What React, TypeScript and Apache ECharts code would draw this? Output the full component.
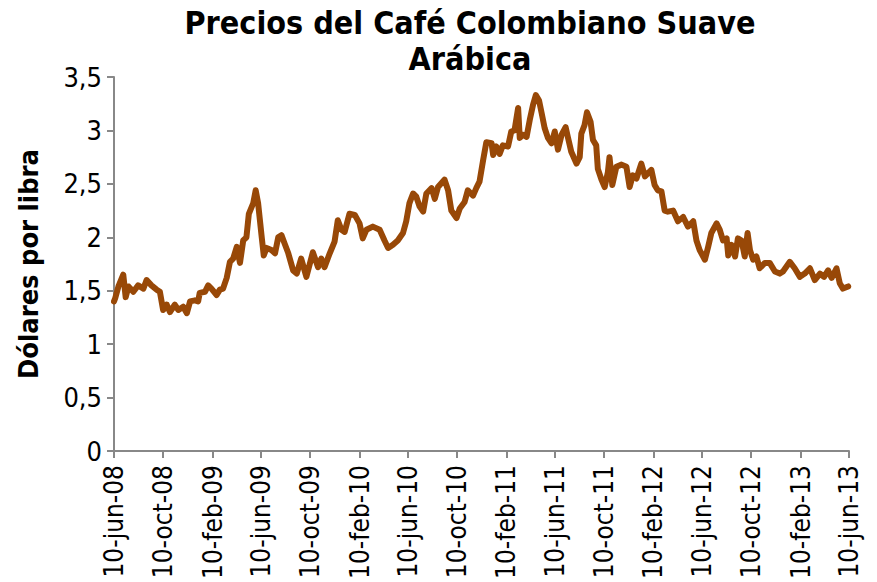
import React, { useEffect, useRef } from "react";
import * as echarts from "echarts";

const dates = [
  "2008-06-10","2008-06-13","2008-06-21","2008-07-03","2008-07-09","2008-07-16","2008-07-28","2008-08-09","2008-08-22","2008-08-30",
  "2008-09-11","2008-09-24","2008-10-02","2008-10-10","2008-10-19","2008-10-27","2008-11-08","2008-11-17","2008-11-29","2008-12-08",
  "2008-12-16","2008-12-28","2009-01-05","2009-01-09","2009-01-22","2009-01-30","2009-02-07","2009-02-20","2009-02-28","2009-03-08",
  "2009-03-17","2009-03-25","2009-04-02","2009-04-11","2009-04-19","2009-04-27","2009-05-05","2009-05-11","2009-05-22","2009-05-28",
  "2009-06-03","2009-06-12","2009-06-17","2009-06-24","2009-07-06","2009-07-15","2009-07-23","2009-07-31","2009-08-09","2009-08-17",
  "2009-08-29","2009-09-07","2009-09-18","2009-10-01","2009-10-17","2009-10-30","2009-11-07","2009-11-15","2009-11-28","2009-12-10",
  "2009-12-18","2009-12-27","2010-01-04","2010-01-16","2010-01-29","2010-02-10","2010-02-18","2010-02-27","2010-03-15","2010-04-01",
  "2010-04-13","2010-04-22","2010-05-04","2010-05-16","2010-05-29","2010-06-06","2010-06-14","2010-06-23","2010-07-01","2010-07-09",
  "2010-07-18","2010-07-26","2010-08-08","2010-08-16","2010-08-24","2010-09-09","2010-09-18","2010-09-26","2010-10-09","2010-10-17",
  "2010-10-29","2010-11-06","2010-11-19","2010-11-27","2010-12-05","2010-12-14","2010-12-22","2011-01-04","2011-01-08","2011-01-16",
  "2011-01-24","2011-02-01","2011-02-14","2011-02-22","2011-03-02","2011-03-11","2011-03-15","2011-03-23","2011-04-01","2011-04-09",
  "2011-04-17","2011-04-24","2011-05-02","2011-05-08","2011-05-16","2011-05-24","2011-06-02","2011-06-10","2011-06-18","2011-06-27",
  "2011-07-07","2011-07-13","2011-07-21","2011-08-03","2011-08-11","2011-08-15","2011-08-23","2011-08-29","2011-09-07","2011-09-13",
  "2011-09-21","2011-09-25","2011-10-04","2011-10-12","2011-10-20","2011-10-24","2011-10-31","2011-11-10","2011-11-23","2011-12-05",
  "2011-12-13","2011-12-21","2011-12-30","2012-01-11","2012-01-20","2012-01-28","2012-02-05","2012-02-13","2012-02-21","2012-03-01",
  "2012-03-09","2012-03-17","2012-03-30","2012-04-11","2012-04-24","2012-05-06","2012-05-19","2012-05-27","2012-06-04","2012-06-17",
  "2012-06-25","2012-07-03","2012-07-16","2012-07-24","2012-08-01","2012-08-10","2012-08-14","2012-08-22","2012-08-31","2012-09-07",
  "2012-09-16","2012-09-24","2012-10-01","2012-10-07","2012-10-15","2012-10-23","2012-10-31","2012-11-13","2012-11-25","2012-12-08",
  "2012-12-20","2012-12-28","2013-01-14","2013-01-26","2013-02-08","2013-02-20","2013-03-05","2013-03-17","2013-03-30","2013-04-09",
  "2013-04-19","2013-04-28","2013-05-10","2013-05-18","2013-05-26","2013-06-08"
];

const prices = [
  1.40,1.43,1.54,1.65,1.44,1.54,1.49,1.55,1.52,1.60,
  1.55,1.51,1.49,1.32,1.37,1.30,1.37,1.32,1.35,1.29,
  1.40,1.41,1.40,1.48,1.49,1.55,1.52,1.46,1.51,1.52,
  1.62,1.77,1.80,1.91,1.76,1.97,2.00,2.22,2.32,2.44,
  2.32,2.00,1.83,1.90,1.88,1.85,2.00,2.02,1.93,1.85,
  1.69,1.66,1.80,1.63,1.86,1.72,1.80,1.72,1.85,1.96,
  2.16,2.07,2.05,2.22,2.21,2.13,1.99,2.07,2.10,2.07,
  1.97,1.90,1.93,1.97,2.04,2.15,2.32,2.41,2.38,2.29,
  2.24,2.41,2.46,2.36,2.47,2.54,2.44,2.25,2.18,2.27,
  2.33,2.44,2.39,2.46,2.52,2.72,2.89,2.88,2.77,2.85,
  2.78,2.86,2.85,2.99,3.00,3.21,2.93,2.96,2.94,3.10,
  3.24,3.33,3.28,3.17,3.02,2.93,2.88,2.99,2.82,2.96,
  3.03,2.93,2.80,2.69,2.75,2.97,3.05,3.17,3.08,2.91,
  2.86,2.64,2.54,2.47,2.61,2.75,2.49,2.66,2.68,2.66,
  2.47,2.58,2.55,2.69,2.57,2.60,2.63,2.49,2.44,2.43,
  2.25,2.24,2.25,2.15,2.19,2.10,2.15,1.97,1.88,1.79,
  1.91,2.04,2.13,2.07,1.97,1.99,1.83,1.93,1.82,1.99,
  1.97,1.82,2.04,1.88,1.79,1.82,1.71,1.76,1.76,1.68,
  1.66,1.68,1.77,1.71,1.63,1.66,1.71,1.60,1.66,1.63,
  1.69,1.62,1.71,1.57,1.52,1.54
];

const tickDates = [
  "2008-06-10","2008-10-10","2009-02-10","2009-06-10","2009-10-10","2010-02-10","2010-06-10","2010-10-10",
  "2011-02-10","2011-06-10","2011-10-10","2012-02-10","2012-06-10","2012-10-10","2013-02-10","2013-06-10"
];
const tickLabels = [
  "10-jun-08","10-oct-08","10-feb-09","10-jun-09","10-oct-09","10-feb-10","10-jun-10","10-oct-10",
  "10-feb-11","10-jun-11","10-oct-11","10-feb-12","10-jun-12","10-oct-12","10-feb-13","10-jun-13"
];

const TITLE = "Precios del Café Colombiano Suave\nArábica";
const Y_NAME = "Dólares por libra";

const DAY = 86400000;
const ORIGIN = Date.UTC(2008, 5, 10);
function dayOf(s: string): number {
  const [y, m, d] = s.split("-").map(Number);
  return Math.round((Date.UTC(y, m - 1, d) - ORIGIN) / DAY);
}

const FONT = "'DejaVu Sans Condensed', Tahoma, 'DejaVu Sans', sans-serif";

export default function App() {
  const ref = useRef<HTMLDivElement>(null);
  useEffect(() => {
    if (!ref.current) return;
    const chart = echarts.init(ref.current, undefined, { renderer: "svg" });
    const tickDays = tickDates.map(dayOf);
    const seriesData = dates.map((d, i) => [dayOf(d), prices[i]]);
    chart.setOption({
      animation: false,
      backgroundColor: "#ffffff",
      title: {
        text: TITLE,
        left: 465,
        top: 0,
        textAlign: "center",
        textStyle: {
          fontFamily: FONT,
          fontWeight: "bold",
          fontSize: 32,
          lineHeight: 36,
          color: "#000000",
        },
      },
      grid: {
        left: 114,
        right: 28,
        top: 77,
        bottom: 131,
        containLabel: false,
        outerBoundsMode: "none",
      },
      xAxis: {
        type: "value",
        min: tickDays[0],
        max: tickDays[tickDays.length - 1],
        splitLine: { show: false },
        axisLine: { show: true, onZero: false, lineStyle: { color: "#888888", width: 2 } },
        axisTick: { show: true, customValues: tickDays, length: 7, lineStyle: { color: "#888888", width: 2 } },
        axisLabel: {
          customValues: tickDays,
          rotate: 90,
          margin: 14,
          fontFamily: FONT,
          fontSize: 26,
          color: "#000000",
          formatter: (v: number) => {
            const idx = tickDays.indexOf(Math.round(v));
            return idx >= 0 ? tickLabels[idx] : "";
          },
        },
      },
      yAxis: {
        type: "value",
        min: 0,
        max: 3.5,
        interval: 0.5,
        name: Y_NAME,
        nameLocation: "middle",
        nameGap: 72,
        nameTextStyle: {
          fontFamily: FONT,
          fontWeight: "bold",
          fontSize: 27,
          color: "#000000",
        },
        splitLine: { show: false },
        axisLine: { show: true, lineStyle: { color: "#888888", width: 2 } },
        axisTick: { show: true, length: 7, lineStyle: { color: "#888888", width: 2 } },
        axisLabel: {
          margin: 12,
          fontFamily: FONT,
          fontSize: 27,
          color: "#000000",
          formatter: (v: number) => String(v).replace(".", ","),
        },
      },
      series: [
        {
          type: "line",
          data: seriesData,
          showSymbol: false,
          symbol: "none",
          lineStyle: { color: "#984807", width: 6, cap: "round", join: "round" },
        },
      ],
    });
    return () => chart.dispose();
  }, []);
  return (
    <div
      ref={ref}
      style={{ position: "fixed", left: 0, top: 0, width: 877, height: 582, background: "#fff" }}
    />
  );
}
